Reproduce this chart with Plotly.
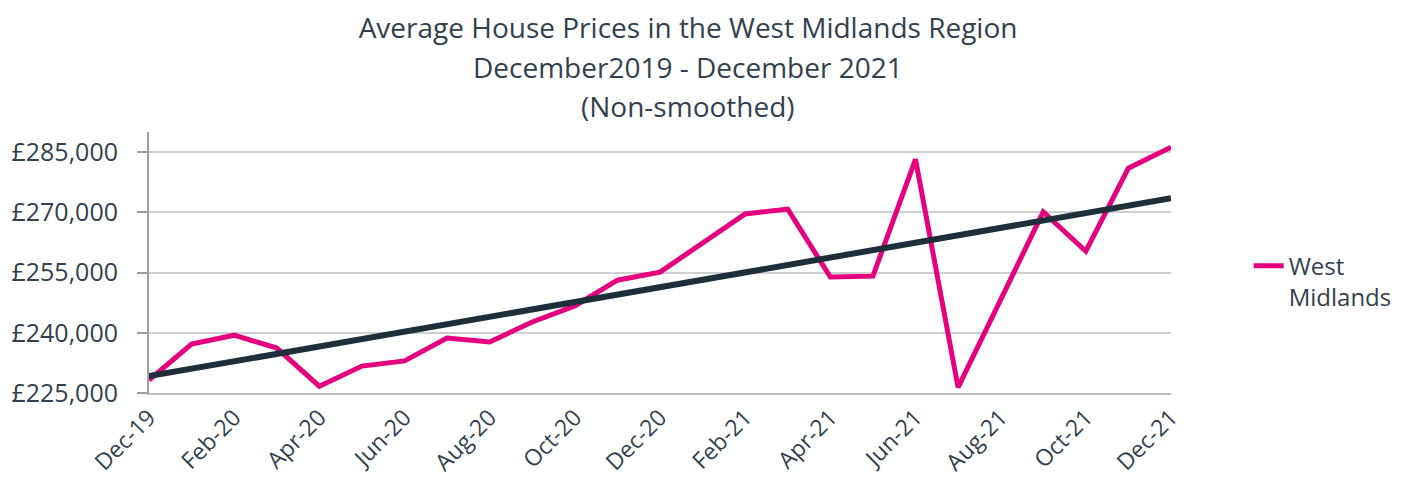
import plotly.graph_objects as go

months = ["Dec-19", "Jan-20", "Feb-20", "Mar-20", "Apr-20", "May-20", "Jun-20",
          "Jul-20", "Aug-20", "Sep-20", "Oct-20", "Nov-20", "Dec-20", "Jan-21",
          "Feb-21", "Mar-21", "Apr-21", "May-21", "Jun-21", "Jul-21", "Aug-21",
          "Sep-21", "Oct-21", "Nov-21", "Dec-21"]
west_midlands = [228200, 237200, 239400, 236200, 226700, 231700, 233000,
                 238700, 237700, 242700, 246700, 253100, 255100, 262300,
                 269600, 270800, 253900, 254100, 283200, 226400, 248300,
                 270100, 260300, 281000, 286200]
trend_months = ["Dec-19", "Dec-21"]
trend_values = [229200, 273500]
tick_months = months[::2]
y_ticks = [225000, 240000, 255000, 270000, 285000]
y_labels = ["£225,000", "£240,000", "£255,000", "£270,000", "£285,000"]

TEXT = "#33414c"
FONT = "Open Sans"

fig = go.Figure()
fig.add_trace(go.Scatter(x=months, y=west_midlands, mode="lines",
                         name="West<br>Midlands",
                         line=dict(color="#e4007f", width=5)))
fig.add_trace(go.Scatter(x=trend_months, y=trend_values, mode="lines",
                         showlegend=False, hoverinfo="skip",
                         line=dict(color="#1e2f3a", width=6)))

fig.update_layout(
    width=1389, height=472,
    margin=dict(l=141, r=226, t=124, b=87, autoexpand=False),
    paper_bgcolor="white", plot_bgcolor="white",
    font=dict(family=FONT, size=24, color=TEXT),
    title=dict(text="Average House Prices in the West Midlands Region",
               x=0.4896, xanchor="center", y=0.958, yanchor="middle",
               font=dict(size=28, color=TEXT)),
    legend=dict(x=1.076, xanchor="left", y=0.427, yanchor="middle",
                valign="top", font=dict(size=24, color=TEXT),
                bgcolor="rgba(0,0,0,0)"),
    xaxis=dict(type="category", categoryorder="array", categoryarray=months,
               range=[0, 24], tickmode="array", tickvals=tick_months,
               ticktext=tick_months, tickangle=-45, showgrid=False,
               showline=True, linecolor="#bdbdbd", linewidth=2,
               ticks="", automargin=False, tickfont=dict(size=23, color=TEXT)),
    yaxis=dict(range=[225000, 290000], tickmode="array", tickvals=y_ticks,
               ticktext=y_labels, showgrid=True, gridcolor="#cfcfcf",
               gridwidth=1.5, showline=True, linecolor="#9e9e9e", linewidth=2,
               ticks="outside", ticklen=10, tickcolor="#9e9e9e", tickwidth=2,
               ticklabelstandoff=14, zeroline=False, automargin=False,
               tickfont=dict(size=25, color=TEXT)),
    annotations=[
        dict(text="December2019 - December 2021", xref="paper", yref="paper",
             x=0.527, y=(385 - 59) / 261, xanchor="center", yanchor="middle",
             showarrow=False, font=dict(size=28, color=TEXT)),
        dict(text="(Non-smoothed)", xref="paper", yref="paper",
             x=0.527, y=(385 - 98) / 261, xanchor="center", yanchor="middle",
             showarrow=False, font=dict(size=28, color=TEXT)),
    ],
)

fig.write_html("out.html")
